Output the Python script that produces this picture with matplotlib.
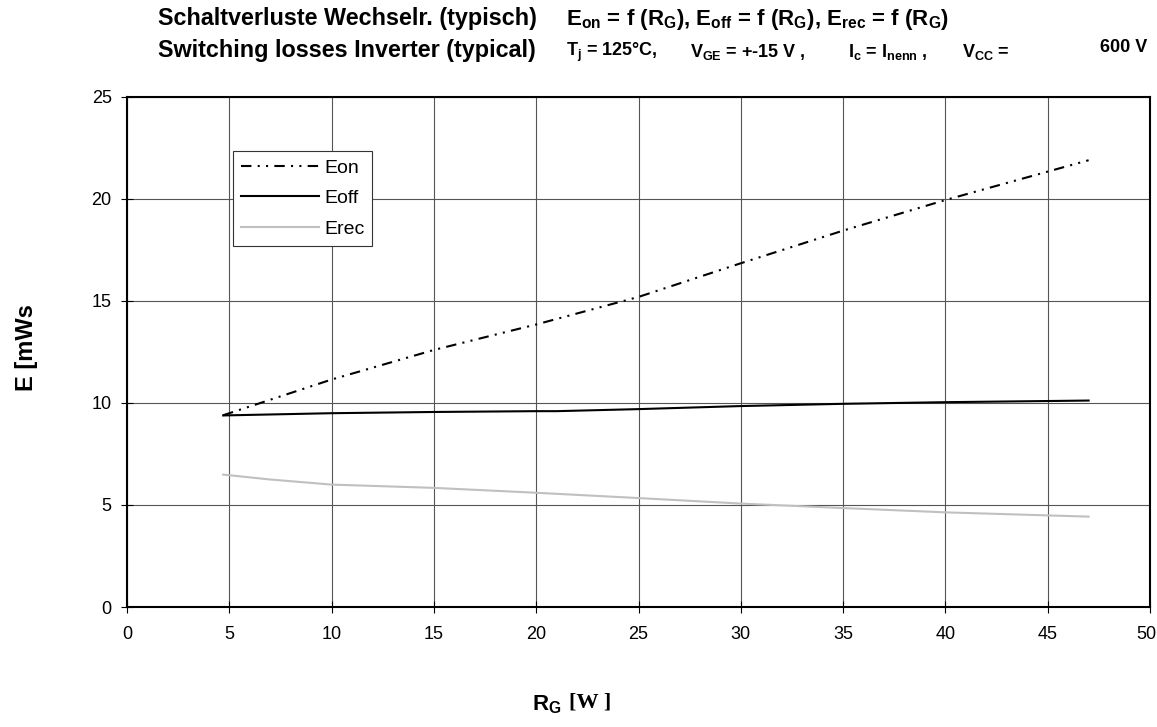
import matplotlib
matplotlib.use("Agg")
import matplotlib.pyplot as plt
from matplotlib.transforms import ScaledTranslation

plt.rcParams['font.family'] = ['Liberation Sans', 'DejaVu Sans']
plt.rcParams['mathtext.fontset'] = 'custom'
plt.rcParams['mathtext.rm'] = 'Liberation Sans:bold'
plt.rcParams['mathtext.it'] = 'Liberation Sans:bold'
plt.rcParams['mathtext.bf'] = 'Liberation Sans:bold'

# Data
rg_on = [4.7, 10, 15, 20, 25, 30, 35, 40, 47]
e_on = [9.4, 11.15, 12.6, 13.85, 15.2, 16.85, 18.45, 19.95, 21.9]

rg_off = [4.7, 10, 15, 20, 21, 25, 30, 35, 40, 47]
e_off = [9.39, 9.5, 9.56, 9.6, 9.6, 9.7, 9.85, 9.96, 10.04, 10.12]

rg_rec = [4.7, 7, 10, 15, 20, 25, 30, 35, 40, 47]
e_rec = [6.49, 6.25, 6.0, 5.84, 5.6, 5.34, 5.07, 4.85, 4.64, 4.43]

x_ticks = [0, 5, 10, 15, 20, 25, 30, 35, 40, 45, 50]
y_ticks = [0, 5, 10, 15, 20, 25]
series_names = ["Eon", "Eoff", "Erec"]

fig = plt.figure(figsize=(11.57, 7.27), dpi=100)
ax = fig.add_axes([127/1157, 1-607/727, 1023/1157, 510/727])

ax.plot(rg_on, e_on, color='black', lw=1.5, linestyle=(0, (5, 3, 1, 3, 1, 3)), label=series_names[0])
ax.plot(rg_off, e_off, color='black', lw=1.5, label=series_names[1])
ax.plot(rg_rec, e_rec, color='#c0c0c0', lw=1.5, label=series_names[2])

ax.set_xlim(0, 50)
ax.set_ylim(0, 25)
ax.set_xticks(x_ticks)
ax.set_yticks(y_ticks)
ax.grid(True, color='#555555', lw=0.8)
ax.set_axisbelow(True)
for s in ax.spines.values():
    s.set_linewidth(1.5)
    s.set_color('black')
ax.tick_params(direction='inout', length=8, width=0.8, labelsize=13)
ax.tick_params(axis='x', pad=10)
ax.tick_params(axis='y', pad=7)

# keep the last x tick label inside the figure edge
last = ax.xaxis.get_major_ticks()[-1].label1
last.set_transform(last.get_transform() + ScaledTranslation(-4/100, 0, fig.dpi_scale_trans))

leg = ax.legend(loc='upper left', bbox_to_anchor=(106/1023, (607-151)/510), borderaxespad=0,
                fancybox=False, framealpha=1, edgecolor='#333333', fontsize=14,
                handlelength=4.0, handletextpad=0.26, labelspacing=0.66, borderpad=0.42)
leg.get_frame().set_linewidth(0.8)

# Titles
fig.text(158/1157, 1-19/727, "Schaltverluste Wechselr. (typisch)", fontsize=16.8, fontweight='bold', va='center')
fig.text(158/1157, 1-51/727, "Switching losses Inverter (typical)", fontsize=16.8, fontweight='bold', va='center')
fig.text(566/1157, 1-19/727,
         r"E$_{\mathrm{on}}$ = f (R$_{\mathrm{G}}$), E$_{\mathrm{off}}$ = f (R$_{\mathrm{G}}$), E$_{\mathrm{rec}}$ = f (R$_{\mathrm{G}}$)",
         fontsize=16, fontweight='bold', va='center')
fig.text(566/1157, 1-52/727, r"T$_{\mathrm{j}}$ = 125°C,", fontsize=13, fontweight='bold', va='center')
fig.text(690/1157, 1-52/727, r"V$_{\mathrm{GE}}$ = +-15 V ,", fontsize=13, fontweight='bold', va='center')
fig.text(848/1157, 1-52/727, r"I$_{\mathrm{c}}$ = I$_{\mathrm{nenn}}$ ,", fontsize=13, fontweight='bold', va='center')
fig.text(962/1157, 1-52/727, r"V$_{\mathrm{CC}}$ =", fontsize=13, fontweight='bold', va='center')
fig.text(1147/1157, 1-48/727, "600 V", fontsize=13, fontweight='bold', va='center', ha='right')

# Axis labels
fig.text(26/1157, 1-348/727, "E [mWs", fontsize=17, fontweight='bold', rotation=90, va='center', ha='center')
fig.text(561/1157, 1-705/727, r"R$_{\mathrm{G}}$", fontsize=16, fontweight='bold', va='center', ha='right')
fig.text(569/1157, 1-702/727, "[W ]", fontsize=16, fontweight='bold',
         family=['Liberation Serif', 'DejaVu Serif'], va='center', ha='left')

fig.savefig("out.png", dpi=100)
